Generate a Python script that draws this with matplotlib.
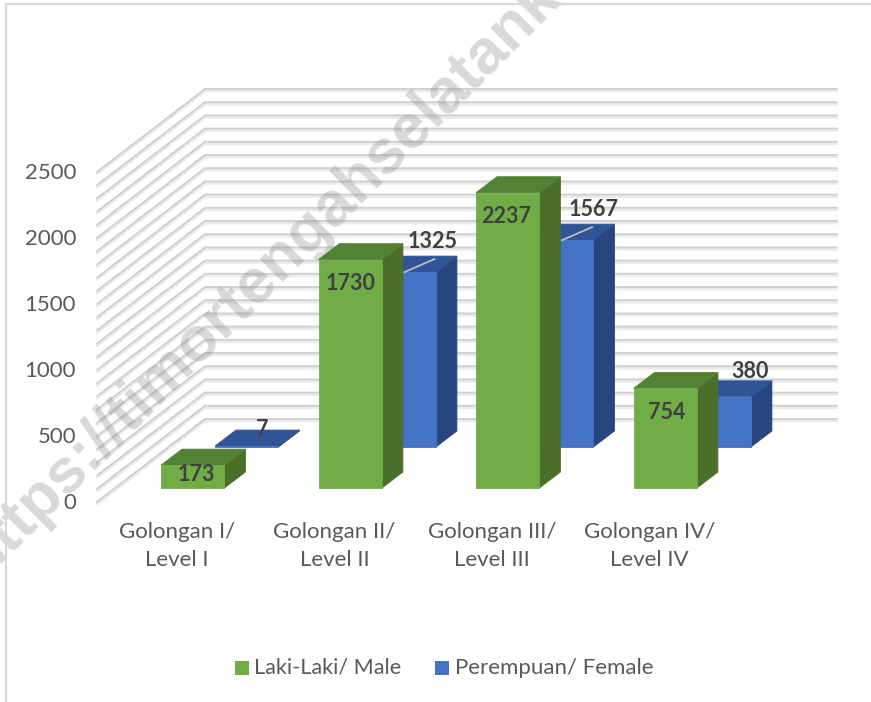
import matplotlib
matplotlib.use('Agg')
import matplotlib.pyplot as plt
from matplotlib.lines import Line2D
from matplotlib.patches import Polygon, Rectangle

categories = ['Golongan I/\nLevel I', 'Golongan II/\nLevel II', 'Golongan III/\nLevel III', 'Golongan IV/\nLevel IV']
male = [173, 1730, 2237, 754]
female = [7, 1325, 1567, 380]
y_ticks = [0, 500, 1000, 1500, 2000, 2500]
grid_values = list(range(0, 2501, 100))
legend_labels = ['Laki-Laki/ Male', 'Perempuan/ Female']
watermark = 'https://timortengahselatankab.bps.go.id'

# pixel scale of the picture: 157.5 px per category, 0.132 px per value
PX_X = 157.5
PX_Y = 0.132
W, H = 871, 702


def dx(px):
    return px / PX_X


def dy(px):
    return px / PX_Y


plt.rcParams['font.family'] = ['Lato', 'DejaVu Sans']
fig = plt.figure(figsize=(W / 100, H / 100), dpi=100)
ax = fig.add_axes([0, 0, 1, 1])
ax.set_xlim(dx(-177), dx(W - 177))
ax.set_ylim(dy(502 - H), dy(502))
ax.axis('off')

# chart frame
fig.add_artist(Line2D([6 / W, 6 / W, 1], [0, 1 - 4 / H, 1 - 4 / H], color='#d9d9d9', lw=1.6))

# walls and grid
wall_left = dx(97 - 177)
wall_back = dx(205 - 177)
wall_right = dx(837 - 177)
depth_y = dy(83)
for v in grid_values:
    for off, col, lw in [(dy(-2), '#ebebeb', 2.0), (0, '#d0d0d0', 1.4)]:
        ax.plot([wall_left, wall_back, wall_right], [v + off, v + off + depth_y, v + off + depth_y],
                color=col, lw=lw, solid_capstyle='round', zorder=1)

ax.text(dx(-29 - 177), dy(502 - 567), watermark, rotation=45, rotation_mode='anchor', fontsize=45,
        fontweight='bold', family='Liberation Sans', color='#8c8c8c', alpha=0.33,
        ha='left', va='center', zorder=2, clip_on=True)


def box(left, width, base, value, colors, z):
    # front, top and side faces of one bar
    bar_dx = dx(21)
    bar_dy = dy(16)
    right = left + width
    top = base + value
    ax.add_patch(Polygon([(right, base), (right + bar_dx, base + bar_dy), (right + bar_dx, top + bar_dy), (right, top)],
                         fc=colors[2], ec=colors[2], lw=0.6, zorder=z))
    ax.add_patch(Polygon([(left, top), (right, top), (right + bar_dx, top + bar_dy), (left + bar_dx, top + bar_dy)],
                         fc=colors[1], ec=colors[1], lw=0.6, zorder=z))
    ax.add_patch(Rectangle((left, base), width, value, fc=colors[0], ec=colors[0], lw=0.6, zorder=z))


green = ['#70ad47', '#548235', '#4a6f28']
blue = ['#4472c4', '#2f5597', '#27467f']
bar_w = dx(63.4)
for i in range(len(categories)):
    box(i + dx(38), bar_w, dy(55), female[i], blue, 3)
    box(i - dx(16), bar_w, dy(14), male[i], green, 4)

# value labels
label_col = '#404040'
male_pos = [(dx(19), dy(5)), (dx(16), dy(-10)), (dx(14.5), dy(-10)), (dx(17), dy(-10))]
for i in range(len(categories)):
    ax.text(i + male_pos[i][0], male[i] + male_pos[i][1], str(male[i]), ha='center', va='center',
            fontsize=15.5, fontweight='bold', color=label_col, zorder=6)

female_pos = [(dx(85), dy(73)), (dx(98), dy(260)), (dx(102), dy(292)), (dx(101), dy(130))]
for i in range(len(categories)):
    ax.text(i + female_pos[i][0], female_pos[i][1], str(female[i]), ha='center', va='center',
            fontsize=15.5, fontweight='bold', color=label_col, zorder=6)

# leader lines for the two labels that sit away from their bars
for i in [1, 2]:
    top = dy(55) + female[i]
    ax.plot([i + dx(70), i + dx(100)], [top, top + dy(13)], color='#bfbfbf', lw=1.3, zorder=5)

for v in y_ticks:
    ax.text(dx(76 - 177), v + dy(-1), str(v), ha='right', va='center', fontsize=16, color='#595959', zorder=6)

for i, c in enumerate(categories):
    ax.text(i, dy(502 - 546), c, ha='center', va='center', fontsize=16, color='#595959',
            linespacing=1.48, zorder=6)

# legend
ax.add_patch(Rectangle((dx(235 - 177), dy(502 - 675)), dx(14), dy(14), fc=green[0], ec='none'))
ax.text(dx(254 - 177), dy(502 - 668), legend_labels[0], ha='left', va='center', fontsize=15.6, color='#595959')
ax.add_patch(Rectangle((dx(435 - 177), dy(502 - 675)), dx(14), dy(14), fc=blue[0], ec='none'))
ax.text(dx(455 - 177), dy(502 - 668), legend_labels[1], ha='left', va='center', fontsize=16, color='#595959')

fig.savefig('out.png', dpi=100)
